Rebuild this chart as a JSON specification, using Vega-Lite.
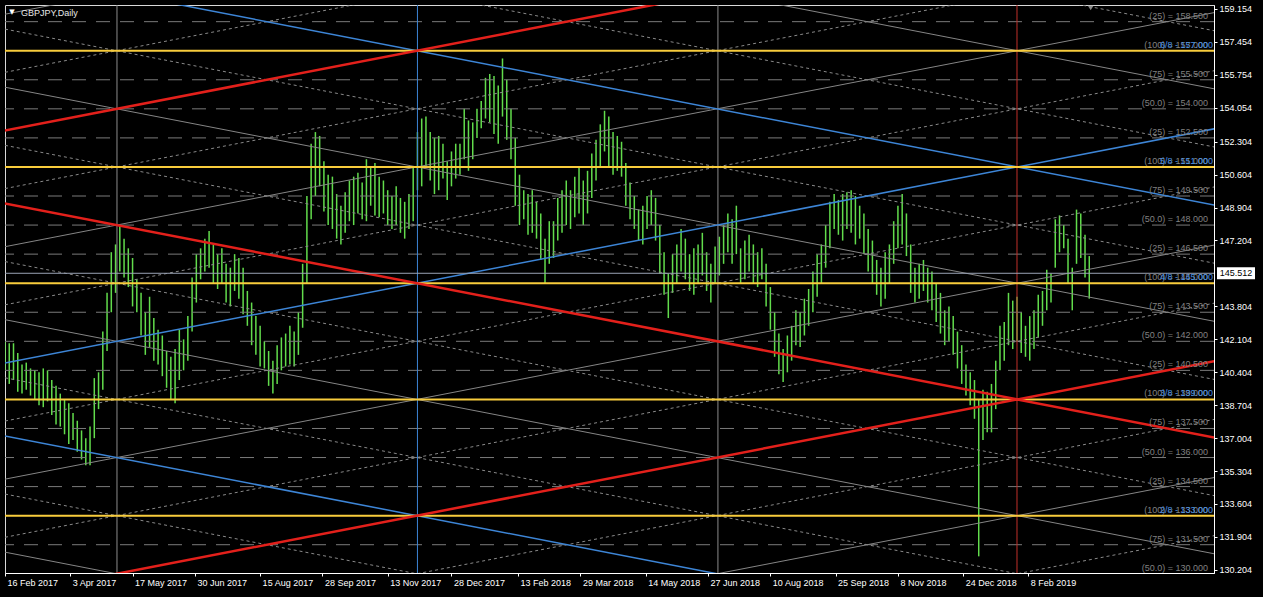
{
"$schema": "https://vega.github.io/schema/vega-lite/v6.json",
"width": 1209, "height": 568,
"autosize": {"type": "none"},
"padding": {"left": 5, "top": 5, "right": 49, "bottom": 24},
"background": "#000000",
"config": {
  "view": {"stroke": "#d8d8d8", "strokeWidth": 1, "fill": "#000000"},
  "font": "Liberation Sans",
  "axis": {"grid": false, "domainColor": "#ffffff", "tickColor": "#ffffff", "labelColor": "#ffffff", "labelFont": "Liberation Sans", "labelFontSize": 9, "tickSize": 3, "labelOverlap": false, "labelFlush": false, "labelBound": false}
},
"datasets": {
"bars": [
{"d":"2017-02-16","h":142.0,"l":140.5},{"d":"2017-02-19","h":141.9,"l":139.8},{"d":"2017-02-22","h":141.9,"l":140.0},{"d":"2017-02-25","h":141.4,"l":139.4},{"d":"2017-02-28","h":140.8,"l":139.3},{"d":"2017-03-03","h":140.9,"l":139.5},{"d":"2017-03-06","h":140.6,"l":139.2},{"d":"2017-03-09","h":140.5,"l":139.0},{"d":"2017-03-12","h":140.4,"l":138.7},{"d":"2017-03-15","h":140.6,"l":138.6},
{"d":"2017-03-18","h":140.5,"l":138.9},{"d":"2017-03-21","h":140.0,"l":138.2},{"d":"2017-03-24","h":139.7,"l":137.7},{"d":"2017-03-27","h":139.3,"l":137.6},{"d":"2017-03-30","h":139.0,"l":137.2},{"d":"2017-04-02","h":138.8,"l":136.7},{"d":"2017-04-05","h":138.3,"l":136.9},{"d":"2017-04-08","h":137.9,"l":136.3},{"d":"2017-04-11","h":137.4,"l":135.9},{"d":"2017-04-14","h":137.0,"l":135.6},
{"d":"2017-04-17","h":137.6,"l":135.6},{"d":"2017-04-20","h":140.1,"l":137.0},{"d":"2017-04-23","h":140.4,"l":138.5},{"d":"2017-04-26","h":142.5,"l":139.5},{"d":"2017-04-29","h":144.5,"l":141.5},{"d":"2017-05-02","h":146.6,"l":143.5},{"d":"2017-05-05","h":147.0,"l":144.5},{"d":"2017-05-08","h":148.0,"l":145.6},{"d":"2017-05-11","h":147.3,"l":145.3},{"d":"2017-05-14","h":146.8,"l":144.8},
{"d":"2017-05-17","h":146.3,"l":143.8},{"d":"2017-05-20","h":145.2,"l":143.5},{"d":"2017-05-23","h":144.5,"l":142.3},{"d":"2017-05-26","h":143.5,"l":141.3},{"d":"2017-05-29","h":144.3,"l":141.7},{"d":"2017-06-01","h":143.2,"l":141.0},{"d":"2017-06-04","h":142.6,"l":140.8},{"d":"2017-06-07","h":142.3,"l":140.2},{"d":"2017-06-10","h":141.5,"l":139.6},{"d":"2017-06-13","h":141.2,"l":139.0},
{"d":"2017-06-16","h":141.6,"l":138.8},{"d":"2017-06-19","h":142.6,"l":140.0},{"d":"2017-06-22","h":142.1,"l":140.5},{"d":"2017-06-25","h":143.3,"l":141.0},{"d":"2017-06-28","h":145.3,"l":142.5},{"d":"2017-07-01","h":146.5,"l":144.0},{"d":"2017-07-04","h":146.8,"l":145.2},{"d":"2017-07-07","h":147.3,"l":145.6},{"d":"2017-07-10","h":147.7,"l":145.8},{"d":"2017-07-13","h":147.0,"l":145.0},
{"d":"2017-07-16","h":146.5,"l":144.7},{"d":"2017-07-19","h":146.8,"l":145.0},{"d":"2017-07-22","h":146.0,"l":144.0},{"d":"2017-07-25","h":145.8,"l":143.8},{"d":"2017-07-28","h":146.5,"l":144.6},{"d":"2017-07-31","h":146.3,"l":144.2},{"d":"2017-08-03","h":145.8,"l":143.4},{"d":"2017-08-06","h":144.6,"l":142.8},{"d":"2017-08-09","h":144.0,"l":141.8},{"d":"2017-08-12","h":143.3,"l":141.3},
{"d":"2017-08-15","h":142.8,"l":140.7},{"d":"2017-08-18","h":142.0,"l":140.6},{"d":"2017-08-21","h":141.5,"l":139.7},{"d":"2017-08-24","h":141.0,"l":139.3},{"d":"2017-08-27","h":141.8,"l":139.8},{"d":"2017-08-30","h":142.2,"l":140.5},{"d":"2017-09-02","h":142.4,"l":140.7},{"d":"2017-09-05","h":142.8,"l":140.8},{"d":"2017-09-08","h":142.5,"l":140.7},{"d":"2017-09-11","h":143.5,"l":141.3},
{"d":"2017-09-14","h":146.0,"l":142.7},{"d":"2017-09-17","h":149.5,"l":145.0},{"d":"2017-09-20","h":152.2,"l":148.3},{"d":"2017-09-23","h":152.8,"l":149.5},{"d":"2017-09-26","h":152.6,"l":150.0},{"d":"2017-09-29","h":151.3,"l":148.7},{"d":"2017-10-02","h":150.6,"l":148.0},{"d":"2017-10-05","h":150.5,"l":147.8},{"d":"2017-10-08","h":149.6,"l":147.3},{"d":"2017-10-11","h":149.0,"l":147.0},
{"d":"2017-10-14","h":149.7,"l":147.6},{"d":"2017-10-17","h":150.3,"l":148.2},{"d":"2017-10-20","h":150.5,"l":148.0},{"d":"2017-10-23","h":150.7,"l":148.6},{"d":"2017-10-26","h":150.2,"l":148.3},{"d":"2017-10-29","h":151.4,"l":148.2},{"d":"2017-11-01","h":151.0,"l":149.0},{"d":"2017-11-04","h":151.2,"l":148.5},{"d":"2017-11-07","h":150.5,"l":148.4},{"d":"2017-11-10","h":150.3,"l":148.6},
{"d":"2017-11-13","h":149.8,"l":148.0},{"d":"2017-11-16","h":149.5,"l":147.8},{"d":"2017-11-19","h":150.0,"l":148.0},{"d":"2017-11-22","h":149.4,"l":147.6},{"d":"2017-11-25","h":149.2,"l":147.3},{"d":"2017-11-28","h":149.6,"l":147.8},{"d":"2017-12-01","h":151.0,"l":148.2},{"d":"2017-12-04","h":152.8,"l":149.8},{"d":"2017-12-07","h":153.5,"l":150.0},{"d":"2017-12-10","h":153.6,"l":151.0},
{"d":"2017-12-13","h":152.8,"l":150.3},{"d":"2017-12-16","h":152.5,"l":149.6},{"d":"2017-12-19","h":152.6,"l":149.8},{"d":"2017-12-22","h":152.2,"l":150.4},{"d":"2017-12-25","h":151.3,"l":149.3},{"d":"2017-12-28","h":151.8,"l":150.0},{"d":"2017-12-31","h":152.2,"l":150.4},{"d":"2018-01-03","h":152.2,"l":150.6},{"d":"2018-01-06","h":154.0,"l":151.4},{"d":"2018-01-09","h":153.4,"l":150.8},
{"d":"2018-01-12","h":153.3,"l":151.4},{"d":"2018-01-15","h":154.0,"l":152.5},{"d":"2018-01-18","h":154.4,"l":153.0},{"d":"2018-01-21","h":155.6,"l":153.5},{"d":"2018-01-24","h":155.8,"l":153.3},{"d":"2018-01-27","h":155.7,"l":152.7},{"d":"2018-01-30","h":155.2,"l":152.2},{"d":"2018-02-02","h":156.6,"l":153.6},{"d":"2018-02-05","h":155.5,"l":152.4},{"d":"2018-02-08","h":154.0,"l":151.4},
{"d":"2018-02-11","h":152.5,"l":149.0},{"d":"2018-02-14","h":150.6,"l":148.0},{"d":"2018-02-17","h":149.8,"l":148.3},{"d":"2018-02-20","h":149.6,"l":147.5},{"d":"2018-02-23","h":149.8,"l":147.6},{"d":"2018-02-26","h":149.2,"l":147.3},{"d":"2018-03-01","h":148.6,"l":146.2},{"d":"2018-03-04","h":147.3,"l":145.0},{"d":"2018-03-07","h":148.2,"l":146.0},{"d":"2018-03-10","h":148.2,"l":146.3},
{"d":"2018-03-13","h":149.4,"l":147.2},{"d":"2018-03-16","h":149.8,"l":147.6},{"d":"2018-03-19","h":150.3,"l":148.0},{"d":"2018-03-22","h":149.8,"l":147.8},{"d":"2018-03-25","h":150.5,"l":148.4},{"d":"2018-03-28","h":151.0,"l":148.6},{"d":"2018-03-31","h":150.3,"l":148.0},{"d":"2018-04-03","h":150.8,"l":148.6},{"d":"2018-04-06","h":151.7,"l":149.4},{"d":"2018-04-09","h":152.4,"l":150.3},
{"d":"2018-04-12","h":153.2,"l":151.0},{"d":"2018-04-15","h":153.9,"l":151.8},{"d":"2018-04-18","h":153.6,"l":151.0},{"d":"2018-04-21","h":152.8,"l":150.6},{"d":"2018-04-24","h":152.6,"l":150.8},{"d":"2018-04-27","h":152.3,"l":150.5},{"d":"2018-04-30","h":151.2,"l":149.0},{"d":"2018-05-03","h":150.2,"l":148.3},{"d":"2018-05-06","h":149.5,"l":147.8},{"d":"2018-05-09","h":148.8,"l":147.2},
{"d":"2018-05-12","h":149.0,"l":147.0},{"d":"2018-05-15","h":149.5,"l":147.8},{"d":"2018-05-18","h":149.8,"l":148.0},{"d":"2018-05-21","h":149.4,"l":147.2},{"d":"2018-05-24","h":148.0,"l":145.5},{"d":"2018-05-27","h":146.6,"l":144.4},{"d":"2018-05-30","h":145.5,"l":143.2},{"d":"2018-06-02","h":146.5,"l":144.5},{"d":"2018-06-05","h":147.0,"l":145.0},{"d":"2018-06-08","h":147.8,"l":145.6},
{"d":"2018-06-11","h":147.3,"l":145.2},{"d":"2018-06-14","h":146.5,"l":144.6},{"d":"2018-06-17","h":146.8,"l":144.4},{"d":"2018-06-20","h":147.0,"l":145.0},{"d":"2018-06-23","h":147.6,"l":145.4},{"d":"2018-06-26","h":146.6,"l":144.6},{"d":"2018-06-29","h":146.0,"l":144.0},{"d":"2018-07-02","h":146.9,"l":145.0},{"d":"2018-07-05","h":147.4,"l":145.4},{"d":"2018-07-08","h":148.0,"l":146.0},
{"d":"2018-07-11","h":148.6,"l":146.6},{"d":"2018-07-14","h":148.3,"l":146.0},{"d":"2018-07-17","h":149.0,"l":146.5},{"d":"2018-07-20","h":146.8,"l":145.0},{"d":"2018-07-23","h":147.2,"l":145.2},{"d":"2018-07-26","h":147.5,"l":145.6},{"d":"2018-07-29","h":147.0,"l":145.0},{"d":"2018-08-01","h":146.6,"l":144.8},{"d":"2018-08-04","h":146.8,"l":145.2},{"d":"2018-08-07","h":146.0,"l":143.8},
{"d":"2018-08-10","h":144.8,"l":142.6},{"d":"2018-08-13","h":143.5,"l":141.2},{"d":"2018-08-16","h":142.4,"l":140.3},{"d":"2018-08-19","h":141.6,"l":139.9},{"d":"2018-08-22","h":142.3,"l":140.4},{"d":"2018-08-25","h":142.8,"l":141.0},{"d":"2018-08-28","h":143.6,"l":141.8},{"d":"2018-08-31","h":143.5,"l":141.7},{"d":"2018-09-03","h":144.2,"l":142.3},{"d":"2018-09-06","h":144.7,"l":142.8},
{"d":"2018-09-09","h":145.6,"l":143.5},{"d":"2018-09-12","h":146.5,"l":144.3},{"d":"2018-09-15","h":147.0,"l":145.0},{"d":"2018-09-18","h":148.0,"l":145.8},{"d":"2018-09-21","h":149.2,"l":146.8},{"d":"2018-09-24","h":149.6,"l":147.8},{"d":"2018-09-27","h":149.3,"l":147.5},{"d":"2018-09-30","h":149.6,"l":147.2},{"d":"2018-10-03","h":149.7,"l":147.8},{"d":"2018-10-06","h":149.8,"l":147.6},
{"d":"2018-10-09","h":149.5,"l":147.0},{"d":"2018-10-12","h":149.0,"l":147.3},{"d":"2018-10-15","h":148.6,"l":146.5},{"d":"2018-10-18","h":147.8,"l":145.6},{"d":"2018-10-21","h":147.2,"l":145.0},{"d":"2018-10-24","h":146.2,"l":144.4},{"d":"2018-10-27","h":145.8,"l":143.8},{"d":"2018-10-30","h":146.6,"l":144.2},{"d":"2018-11-02","h":147.0,"l":145.0},{"d":"2018-11-05","h":148.2,"l":146.0},
{"d":"2018-11-08","h":149.0,"l":146.8},{"d":"2018-11-11","h":149.6,"l":147.0},{"d":"2018-11-14","h":148.6,"l":146.4},{"d":"2018-11-17","h":147.0,"l":144.5},{"d":"2018-11-20","h":145.8,"l":144.0},{"d":"2018-11-23","h":146.0,"l":144.2},{"d":"2018-11-26","h":146.2,"l":144.6},{"d":"2018-11-29","h":145.8,"l":144.0},{"d":"2018-12-02","h":145.6,"l":143.6},{"d":"2018-12-05","h":145.0,"l":143.0},
{"d":"2018-12-08","h":144.5,"l":142.4},{"d":"2018-12-11","h":143.6,"l":141.8},{"d":"2018-12-14","h":143.8,"l":142.0},{"d":"2018-12-17","h":143.3,"l":141.3},{"d":"2018-12-20","h":142.5,"l":140.6},{"d":"2018-12-23","h":141.8,"l":139.8},{"d":"2018-12-26","h":140.8,"l":139.2},{"d":"2018-12-29","h":140.4,"l":138.7},{"d":"2019-01-01","h":140.0,"l":138.0},{"d":"2019-01-04","h":139.0,"l":130.9},
{"d":"2019-01-07","h":139.5,"l":136.9},{"d":"2019-01-10","h":139.4,"l":137.3},{"d":"2019-01-13","h":139.8,"l":137.3},{"d":"2019-01-16","h":141.0,"l":138.5},{"d":"2019-01-19","h":142.8,"l":140.5},{"d":"2019-01-22","h":143.0,"l":141.0},{"d":"2019-01-25","h":144.5,"l":141.8},{"d":"2019-01-28","h":144.1,"l":141.6},{"d":"2019-01-31","h":144.3,"l":142.0},{"d":"2019-02-03","h":143.5,"l":141.4},
{"d":"2019-02-06","h":142.8,"l":141.2},{"d":"2019-02-09","h":143.3,"l":141.0},{"d":"2019-02-12","h":143.6,"l":141.6},{"d":"2019-02-15","h":144.4,"l":142.2},{"d":"2019-02-18","h":144.6,"l":142.8},{"d":"2019-02-21","h":145.7,"l":143.6},{"d":"2019-02-24","h":145.5,"l":144.0},{"d":"2019-02-27","h":148.3,"l":145.8},{"d":"2019-03-02","h":148.5,"l":146.6},{"d":"2019-03-05","h":148.0,"l":146.8},
{"d":"2019-03-08","h":147.3,"l":145.0},{"d":"2019-03-11","h":145.8,"l":143.6},{"d":"2019-03-14","h":148.8,"l":146.0},{"d":"2019-03-17","h":148.6,"l":146.3},{"d":"2019-03-20","h":147.5,"l":145.3},{"d":"2019-03-23","h":146.4,"l":144.2}
],
"gann": [
{"a":"2016-10-06","pa":121,"b":"2019-08-31","pb":136,"s":"gray"},
{"a":"2016-10-06","pa":127,"b":"2019-08-31","pb":142,"s":"red"},
{"a":"2016-10-06","pa":133,"b":"2019-08-31","pb":148,"s":"gray"},
{"a":"2016-10-06","pa":139,"b":"2019-08-31","pb":154,"s":"blue"},
{"a":"2016-10-06","pa":145,"b":"2019-08-31","pb":160,"s":"gray"},
{"a":"2016-10-06","pa":151,"b":"2019-08-31","pb":166,"s":"red"},
{"a":"2016-10-06","pa":157,"b":"2019-08-31","pb":172,"s":"gray"},
{"a":"2016-10-06","pa":133,"b":"2019-08-31","pb":118,"s":"gray"},
{"a":"2016-10-06","pa":139,"b":"2019-08-31","pb":124,"s":"blue"},
{"a":"2016-10-06","pa":145,"b":"2019-08-31","pb":130,"s":"gray"},
{"a":"2016-10-06","pa":151,"b":"2019-08-31","pb":136,"s":"red"},
{"a":"2016-10-06","pa":157,"b":"2019-08-31","pb":142,"s":"gray"},
{"a":"2016-10-06","pa":163,"b":"2019-08-31","pb":148,"s":"blue"},
{"a":"2016-10-06","pa":169,"b":"2019-08-31","pb":154,"s":"gray"},
{"a":"2016-10-06","pa":118,"b":"2019-08-31","pb":133,"s":"dot"},
{"a":"2016-10-06","pa":124,"b":"2019-08-31","pb":139,"s":"dot"},
{"a":"2016-10-06","pa":130,"b":"2019-08-31","pb":145,"s":"dot"},
{"a":"2016-10-06","pa":136,"b":"2019-08-31","pb":151,"s":"dot"},
{"a":"2016-10-06","pa":142,"b":"2019-08-31","pb":157,"s":"dot"},
{"a":"2016-10-06","pa":148,"b":"2019-08-31","pb":163,"s":"dot"},
{"a":"2016-10-06","pa":154,"b":"2019-08-31","pb":169,"s":"dot"},
{"a":"2016-10-06","pa":136,"b":"2019-08-31","pb":121,"s":"dot"},
{"a":"2016-10-06","pa":142,"b":"2019-08-31","pb":127,"s":"dot"},
{"a":"2016-10-06","pa":148,"b":"2019-08-31","pb":133,"s":"dot"},
{"a":"2016-10-06","pa":154,"b":"2019-08-31","pb":139,"s":"dot"},
{"a":"2016-10-06","pa":160,"b":"2019-08-31","pb":145,"s":"dot"},
{"a":"2016-10-06","pa":166,"b":"2019-08-31","pb":151,"s":"dot"},
{"a":"2016-10-06","pa":172,"b":"2019-08-31","pb":157,"s":"dot"}
],
"levels": [
{"p":130,"k":"n","t":"(50.0) =  130.000","m":""},
{"p":131.5,"k":"n","t":"(75) =  131.500","m":""},
{"p":133,"k":"h","t":"(100) =  133.000","m":"2/8 - 133.000"},
{"p":134.5,"k":"n","t":"(25) =  134.500","m":""},
{"p":136,"k":"n","t":"(50.0) =  136.000","m":""},
{"p":137.5,"k":"n","t":"(75) =  137.500","m":""},
{"p":139,"k":"h","t":"(100) =  139.000","m":"3/8 - 139.000"},
{"p":140.5,"k":"n","t":"(25) =  140.500","m":""},
{"p":142,"k":"n","t":"(50.0) =  142.000","m":""},
{"p":143.5,"k":"n","t":"(75) =  143.500","m":""},
{"p":145,"k":"h","t":"(100) =  145.000","m":"4/8 - 145.000"},
{"p":146.5,"k":"n","t":"(25) =  146.500","m":""},
{"p":148,"k":"n","t":"(50.0) =  148.000","m":""},
{"p":149.5,"k":"n","t":"(75) =  149.500","m":""},
{"p":151,"k":"h","t":"(100) =  151.000","m":"5/8 - 151.000"},
{"p":152.5,"k":"n","t":"(25) =  152.500","m":""},
{"p":154,"k":"n","t":"(50.0) =  154.000","m":""},
{"p":155.5,"k":"n","t":"(75) =  155.500","m":""},
{"p":157,"k":"h","t":"(100) =  157.000","m":"6/8 - 157.000"},
{"p":158.5,"k":"n","t":"(25) =  158.500","m":""}
],
"vlines": [
{"d":"2017-05-06","s":"gray"},{"d":"2017-12-04","s":"blue"},{"d":"2018-07-04","s":"gray"},{"d":"2019-01-31","s":"red"}
],
"bid": [{"p":145.512}],
"title": [{"t":"GBPJPY,Daily","m":"▼"}]
},
"layer": [
{"data": {"name": "bars"},
 "mark": {"type": "rule", "color": "#62dc4c", "strokeWidth": 1.5, "clip": true},
 "encoding": {
  "x": {"field": "d", "type": "temporal", "scale": {"type": "utc", "domain": [{"year":2017,"month":2,"date":16,"utc":true},{"year":2019,"month":6,"date":19,"utc":true}], "nice": false},
        "axis": {"title": null, "orient": "bottom", "format": "%-d %b %Y", "labelAlign": "left", "labelBaseline": "top", "labelPadding": 2, "labelOffset": 2, "labelOverlap": false, "tickCount": 40, "labelColor": "#ffffff", "domainColor": "#ffffff", "tickColor": "#ffffff", "zindex": 1,
                 "values": [{"year":2017,"month":2,"date":16,"utc":true},{"year":2017,"month":4,"date":3,"utc":true},{"year":2017,"month":5,"date":17,"utc":true},{"year":2017,"month":6,"date":30,"utc":true},{"year":2017,"month":8,"date":15,"utc":true},{"year":2017,"month":9,"date":28,"utc":true},{"year":2017,"month":11,"date":13,"utc":true},{"year":2017,"month":12,"date":28,"utc":true},{"year":2018,"month":2,"date":13,"utc":true},{"year":2018,"month":3,"date":29,"utc":true},{"year":2018,"month":5,"date":14,"utc":true},{"year":2018,"month":6,"date":27,"utc":true},{"year":2018,"month":8,"date":10,"utc":true},{"year":2018,"month":9,"date":25,"utc":true},{"year":2018,"month":11,"date":8,"utc":true},{"year":2018,"month":12,"date":24,"utc":true},{"year":2019,"month":2,"date":8,"utc":true}]}},
  "y": {"field": "h", "type": "quantitative", "scale": {"domain": [130.04, 159.36], "nice": false, "zero": false},
        "axis": {"title": null, "orient": "right", "format": ".3f", "labelAlign": "left", "labelBaseline": "middle", "labelPadding": 2, "labelOverlap": false, "tickCount": 40, "labelColor": "#ffffff", "domainColor": "#ffffff", "tickColor": "#ffffff", "zindex": 1,
                 "values": [130.204,131.904,133.604,135.304,137.004,138.704,140.404,142.104,143.804,147.204,148.904,150.604,152.304,154.054,155.754,157.454,159.154]}},
  "y2": {"field": "l"}
 }},
{"data": {"name": "levels"},
 "transform": [{"filter": "datum.k == 'n'"}],
 "mark": {"type": "rule", "color": "#7a7a7a", "strokeWidth": 1, "strokeDash": [14, 10], "clip": true},
 "encoding": {"y": {"field": "p", "type": "quantitative"}}},
{"data": {"name": "gann"},
 "transform": [{"filter": "datum.s == 'dot'"}],
 "mark": {"type": "rule", "color": "#8a8a8a", "strokeWidth": 1, "strokeDash": [3, 3], "clip": true},
 "encoding": {
  "x": {"field": "a", "type": "temporal"},
  "x2": {"field": "b"},
  "y": {"field": "pa", "type": "quantitative"},
  "y2": {"field": "pb"}}},
{"data": {"name": "gann"},
 "transform": [{"filter": "datum.s == 'gray'"}],
 "mark": {"type": "rule", "color": "#858585", "strokeWidth": 1, "clip": true},
 "encoding": {
  "x": {"field": "a", "type": "temporal"},
  "x2": {"field": "b"},
  "y": {"field": "pa", "type": "quantitative"},
  "y2": {"field": "pb"}}},
{"data": {"name": "vlines"},
 "transform": [{"filter": "datum.s == 'gray'"}],
 "mark": {"type": "rule", "color": "#8c8c8c", "strokeWidth": 1, "clip": true},
 "encoding": {"x": {"field": "d", "type": "temporal"}}},
{"data": {"name": "vlines"},
 "transform": [{"filter": "datum.s == 'blue'"}],
 "mark": {"type": "rule", "color": "#3d85d6", "strokeWidth": 1, "clip": true},
 "encoding": {"x": {"field": "d", "type": "temporal"}}},
{"data": {"name": "vlines"},
 "transform": [{"filter": "datum.s == 'red'"}],
 "mark": {"type": "rule", "color": "#c0302a", "strokeWidth": 1, "clip": true},
 "encoding": {"x": {"field": "d", "type": "temporal"}}},
{"data": {"name": "gann"},
 "transform": [{"filter": "datum.s == 'blue'"}],
 "mark": {"type": "rule", "color": "#3d85d6", "strokeWidth": 1.5, "clip": true},
 "encoding": {
  "x": {"field": "a", "type": "temporal"},
  "x2": {"field": "b"},
  "y": {"field": "pa", "type": "quantitative"},
  "y2": {"field": "pb"}}},
{"data": {"name": "levels"},
 "transform": [{"filter": "datum.k == 'h'"}],
 "mark": {"type": "rule", "color": "#f8cc3c", "strokeWidth": 2, "clip": true},
 "encoding": {"y": {"field": "p", "type": "quantitative"}}},
{"data": {"name": "gann"},
 "transform": [{"filter": "datum.s == 'red'"}],
 "mark": {"type": "rule", "color": "#e3201b", "strokeWidth": 2.5, "clip": true},
 "encoding": {
  "x": {"field": "a", "type": "temporal"},
  "x2": {"field": "b"},
  "y": {"field": "pa", "type": "quantitative"},
  "y2": {"field": "pb"}}},
{"data": {"name": "bid"},
 "mark": {"type": "rule", "color": "#9aa3b5", "strokeWidth": 1, "clip": true},
 "encoding": {"y": {"field": "p", "type": "quantitative"}}},
{"data": {"name": "levels"},
 "mark": {"type": "text", "color": "#808080", "font": "Liberation Sans", "fontSize": 9, "align": "right", "baseline": "alphabetic", "dx": -6, "dy": -3},
 "encoding": {
  "x": {"datum": {"year":2019,"month":6,"date":19,"utc":true}, "type": "temporal"},
  "y": {"field": "p", "type": "quantitative"},
  "text": {"field": "t"}}},
{"data": {"name": "levels"},
 "transform": [{"filter": "datum.k == 'h'"}],
 "mark": {"type": "text", "color": "#4a90e2", "font": "Liberation Sans", "fontSize": 9, "align": "right", "baseline": "alphabetic", "dx": -1, "dy": -3},
 "encoding": {
  "x": {"datum": {"year":2019,"month":6,"date":19,"utc":true}, "type": "temporal"},
  "y": {"field": "p", "type": "quantitative"},
  "text": {"field": "m"}}},
{"data": {"name": "title"},
 "mark": {"type": "text", "color": "#e8e8e8", "font": "Liberation Sans", "fontSize": 9, "align": "left", "baseline": "middle", "dx": 16, "dy": 8},
 "encoding": {
  "x": {"datum": {"year":2017,"month":2,"date":16,"utc":true}, "type": "temporal"},
  "y": {"datum": 159.36, "type": "quantitative"},
  "text": {"field": "t"}}},
{"data": {"name": "title"},
 "mark": {"type": "text", "color": "#ffffff", "font": "DejaVu Sans", "fontSize": 7, "align": "center", "baseline": "middle", "dx": 7, "dy": 7},
 "encoding": {
  "x": {"datum": {"year":2017,"month":2,"date":16,"utc":true}, "type": "temporal"},
  "y": {"datum": 159.36, "type": "quantitative"},
  "text": {"field": "m"}}},
{"data": {"name": "title"},
 "mark": {"type": "point", "shape": "triangle-down", "filled": true, "color": "#8a8a8a", "opacity": 1, "size": 30, "yOffset": 3},
 "encoding": {
  "x": {"datum": {"year":2019,"month":3,"date":24,"utc":true}, "type": "temporal"},
  "y": {"datum": 159.36, "type": "quantitative"}}},
{"data": {"name": "bid"},
 "mark": {"type": "point", "shape": "M-1,-0.32H1V0.32H-1Z", "filled": true, "color": "#ffffff", "opacity": 1, "size": 1444, "xOffset": 22, "strokeWidth": 0},
 "encoding": {
  "x": {"datum": {"year":2019,"month":6,"date":19,"utc":true}, "type": "temporal"},
  "y": {"field": "p", "type": "quantitative"}}},
{"data": {"name": "bid"},
 "mark": {"type": "text", "color": "#000000", "font": "Liberation Sans", "fontSize": 9, "align": "center", "baseline": "middle", "dx": 22},
 "encoding": {
  "x": {"datum": {"year":2019,"month":6,"date":19,"utc":true}, "type": "temporal"},
  "y": {"field": "p", "type": "quantitative"},
  "text": {"field": "p", "format": ".3f"}}}
]
}
